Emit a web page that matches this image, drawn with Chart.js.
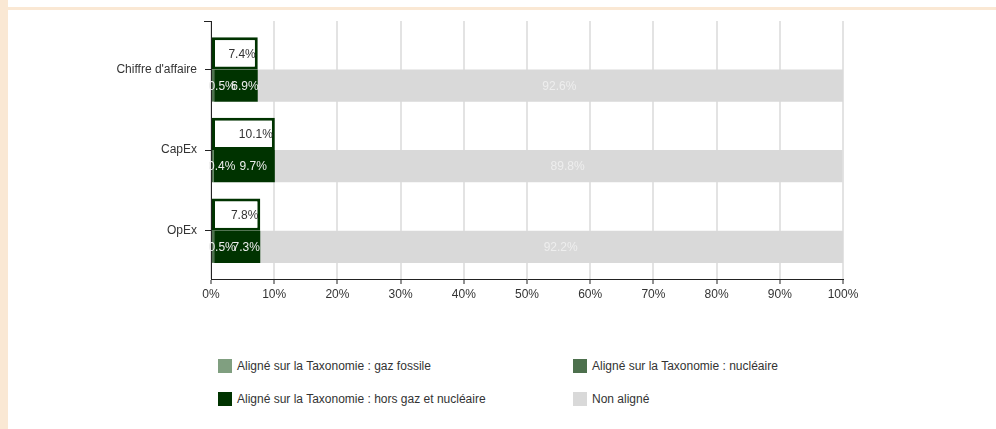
<!DOCTYPE html>
<html>
<head>
<meta charset="utf-8">
<script src="https://cdn.jsdelivr.net/npm/chart.js@4"></script>
<style>
  body { margin: 0; background: #fff; font-family: "Liberation Sans", Arial, sans-serif; }
  #strip { position: absolute; left: 0; top: 0; width: 8px; height: 429px; background: #fae8d4; }
  #topline { position: absolute; left: 8px; top: 7px; width: 988px; height: 3px; background: #fae8d4; }
  #wrap { position: absolute; left: 8px; top: 10px; line-height: 0; }
  #legend { position: absolute; left: 0; top: 0; font-size: 12px; color: #333; }
  .item { position: absolute; height: 14px; line-height: 14px; white-space: nowrap; }
  .sw { position: absolute; left: 0; top: 0; width: 14px; height: 14px; }
  .lb { position: absolute; left: 19px; top: 0; }
</style>
</head>
<body>
<div id="strip"></div>
<div id="topline"></div>
<div id="wrap"><canvas id="chart" width="988" height="300"></canvas></div>
<div id="legend"></div>
<script>
var categories = ["Chiffre d'affaire", "CapEx", "OpEx"];
var totalAligne = [7.4, 10.1, 7.8];
var gazFossile = [0, 0, 0];
var nucleaire = [0.5, 0.4, 0.5];
var horsGazNucleaire = [6.9, 9.7, 7.3];
var nonAligne = [92.6, 89.8, 92.2];
var xTicks = [0, 10, 20, 30, 40, 50, 60, 70, 80, 90, 100];

var gridColor = '#e3e3e3';
var font = { family: '"Liberation Sans", Arial, sans-serif', size: 12 };
var chart;

// one point per category, the category index is the y value
function rows(values) {
  return values.map(function(v, i) { return { x: v, y: i }; });
}

// labels on the bars
var barLabels = {
  id: 'barLabels',
  afterDatasetsDraw: function(c) {
    var ctx = c.ctx, area = c.chartArea;
    ctx.save();
    ctx.beginPath();
    ctx.rect(area.left - 2, area.top, area.right - area.left + 2, area.bottom - area.top);
    ctx.clip();
    ctx.font = '12px "Liberation Sans", Arial, sans-serif';
    ctx.textBaseline = 'middle';
    c.data.datasets.forEach(function(ds, i) {
      var meta = c.getDatasetMeta(i);
      meta.data.forEach(function(bar, j) {
        var v = ds.data[j].x;
        if (!v) return;
        var txt = v.toFixed(1) + '%';
        if (ds.stack === 'total') {
          ctx.fillStyle = '#333';
          ctx.textAlign = 'right';
          ctx.fillText(txt, bar.x - 2, bar.y + 1);
        } else {
          ctx.fillStyle = '#eeeeee';
          ctx.textAlign = 'center';
          ctx.fillText(txt, (bar.base + bar.x) / 2 + 9, bar.y + 1);
        }
      });
    });
    ctx.restore();
  }
};

// small tick at the top end of the y axis
var topTick = {
  id: 'topTick',
  afterDraw: function(c) {
    var ctx = c.ctx, area = c.chartArea;
    ctx.save();
    ctx.lineWidth = 1;
    ctx.strokeStyle = '#222';
    ctx.beginPath();
    ctx.moveTo(area.left - 7, area.top + 0.5);
    ctx.lineTo(area.left, area.top + 0.5);
    ctx.stroke();
    ctx.restore();
  }
};

chart = new Chart('chart', {
  type: 'bar',
  data: {
    datasets: [
      { label: 'Total aligné', data: rows(totalAligne), stack: 'total', backgroundColor: '#ffffff',
        borderColor: '#003300', borderWidth: 3, borderSkipped: false },
      { label: 'Aligné sur la Taxonomie : gaz fossile', data: rows(gazFossile), stack: 'detail', backgroundColor: '#809f80' },
      { label: 'Aligné sur la Taxonomie : nucléaire', data: rows(nucleaire), stack: 'detail', backgroundColor: '#4d704d' },
      { label: 'Aligné sur la Taxonomie : hors gaz et nucléaire', data: rows(horsGazNucleaire), stack: 'detail', backgroundColor: '#003300' },
      { label: 'Non aligné', data: rows(nonAligne), stack: 'detail', backgroundColor: '#d9d9d9' }
    ]
  },
  options: {
    responsive: false,
    animation: false,
    indexAxis: 'y',
    categoryPercentage: 0.8,
    barPercentage: 1.0,
    layout: { padding: { top: 11, right: 153, left: 0, bottom: 0 } },
    plugins: { legend: { display: false }, tooltip: { enabled: false } },
    scales: {
      x: {
        stacked: true,
        min: 0, max: 100,
        afterBuildTicks: function(s) { s.ticks = xTicks.map(function(v) { return { value: v }; }); },
        afterFit: function(s) { s.height = 31; },
        grid: { color: gridColor, lineWidth: 2, tickColor: '#222', tickLength: 5, tickWidth: 1 },
        border: { color: '#222', width: 1 },
        ticks: { color: '#333', padding: 3, maxRotation: 0, font: font,
          callback: function(v) { return v + '%'; } }
      },
      y: {
        type: 'linear',
        stacked: true,
        reverse: true,
        offset: false,
        bounds: 'data',
        min: -0.6, max: 2.6,
        afterBuildTicks: function(s) { s.ticks = categories.map(function(c, i) { return { value: i }; }); },
        afterFit: function(s) { s.width = 203; s.paddingTop = 0; s.paddingBottom = 0; },
        grid: { drawOnChartArea: false, offset: false, tickColor: '#222', tickLength: 6 },
        border: { color: '#222', width: 1 },
        ticks: { color: '#333', padding: 8, font: font,
          callback: function(v) { return categories[v]; } }
      }
    }
  },
  plugins: [barLabels, topTick]
});

// legend in two columns, built from the datasets
var legendPos = [[218, 359], [573, 359], [218, 392], [573, 392]];
var legend = document.getElementById('legend');
chart.data.datasets.slice(1).forEach(function(ds, i) {
  var it = document.createElement('div');
  it.className = 'item';
  it.style.left = legendPos[i][0] + 'px';
  it.style.top = legendPos[i][1] + 'px';
  it.innerHTML = '<span class="sw" style="background:' + ds.backgroundColor + '"></span><span class="lb"></span>';
  it.querySelector('.lb').textContent = ds.label;
  legend.appendChild(it);
});
</script>
</body>
</html>
